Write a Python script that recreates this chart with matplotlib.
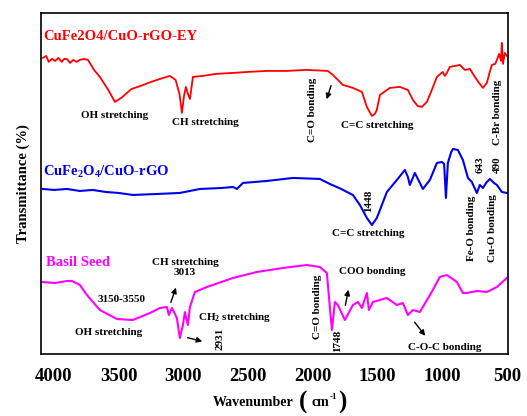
import matplotlib
matplotlib.use("Agg")
import matplotlib.pyplot as plt

plt.rcParams['font.family'] = ['Liberation Serif', 'DejaVu Serif']
plt.rcParams['font.weight'] = 'bold'
plt.rcParams['mathtext.fontset'] = 'custom'
plt.rcParams['mathtext.rm'] = 'Liberation Serif:bold'
plt.rcParams['mathtext.bf'] = 'Liberation Serif:bold'
plt.rcParams['mathtext.it'] = 'Liberation Serif:bold'

# CuFe2O4/CuO-rGO-EY (red)
ey_wn = [4085, 4060, 4040, 4015, 3990, 3965, 3940, 3920, 3900, 3875, 3850, 3825, 3800, 3770, 3737,
         3690, 3645, 3580, 3529, 3480, 3400, 3330,
         3250, 3180, 3104, 3060, 3030, 3011, 2995, 2980, 2965, 2949, 2926, 2850, 2750, 2617, 2500,
         2354, 2200, 2050, 1883, 1845, 1814, 1767, 1690, 1620, 1582, 1543, 1520, 1505, 1481, 1404,
         1327, 1265, 1226, 1190, 1157, 1118, 1080, 1041, 995, 980, 964, 941, 900, 863, 825, 786,
         747, 715, 685, 655, 630, 616, 590, 577, 560, 545, 539, 530, 516, 500]
ey_t = [358, 360, 354, 357, 355, 358, 354, 357, 357, 353, 356, 354, 356, 357, 356,
        346, 339, 326, 314, 318, 327, 330,
        334, 337, 340, 336, 322, 303, 320, 329, 322, 317, 339, 340, 342, 343, 344,
        345, 345, 346, 345, 341, 337, 331, 328, 324, 309, 300, 302, 306, 321, 328,
        329, 326, 316, 310, 309, 314, 326, 339, 344, 340, 343, 349, 350, 351, 346, 347,
        339, 333, 328, 333, 345, 351, 352, 356, 362, 355, 373, 352, 363, 360]

# CuFe2O4/CuO-rGO (blue)
go_wn = [4085, 4000, 3900, 3800, 3700, 3600, 3500, 3390, 3200, 3027, 2872, 2700, 2617, 2586, 2540,
         2354, 2153, 1945, 1868, 1780, 1736, 1690, 1636, 1582, 1543, 1505, 1427, 1350, 1288, 1265,
         1250, 1211, 1149, 1095, 1041, 1002, 985, 971, 956, 930, 917, 879, 840, 801, 771, 732,
         709, 685, 655, 631, 600, 577, 539, 500]
go_t = [227, 226, 227, 225, 226, 224, 223, 221, 222, 223, 227, 228, 229, 227, 233,
        235, 238, 237, 232, 227, 224, 221, 211, 198, 191, 198, 224, 236, 246, 239,
        231, 243, 227, 236, 253, 254, 252, 218, 253, 264, 267, 266, 256, 238, 234, 223,
        231, 228, 234, 237, 233, 231, 224, 223]

# Basil Seed (magenta)
bs_wn = [4093, 3990, 3900, 3861, 3799, 3745, 3645, 3513, 3390, 3258, 3181, 3127, 3112, 3088, 3050,
         3027, 3003, 2988, 2965, 2949, 2911, 2818, 2617, 2432, 2231, 2045, 1945, 1891, 1868, 1852,
         1829, 1806, 1752, 1690, 1651, 1620, 1582, 1566, 1535, 1427, 1350, 1304, 1265, 1226, 1172,
         1072, 1018, 964, 886, 840, 809, 732, 655, 577, 500]
bs_t = [134, 133, 135, 135, 131, 121, 106, 97, 96, 103, 108, 109, 101, 108, 98,
        78, 91, 104, 91, 109, 124, 129, 138, 144, 148, 151, 149, 143, 109, 86,
        114, 111, 96, 111, 114, 108, 123, 106, 114, 118, 111, 113, 101, 106, 104,
        126, 139, 141, 134, 123, 123, 125, 124, 129, 138]

tick_vals = [4000, 3500, 3000, 2500, 2000, 1500, 1000, 500]

W, H = 527, 416
fig = plt.figure(figsize=(W / 100, H / 100), dpi=100)
ax = fig.add_axes([0.0778, 0.149, 0.886, 0.82])

ax.plot(ey_wn, ey_t, color='#ff0000', lw=1.3)
ax.plot(go_wn, go_t, color='#0000ee', lw=1.5)
ax.plot(bs_wn, bs_t, color='#ff00ff', lw=1.5)

ax.set_xlim(4100, 492)
ax.set_ylim(62, 403)
ax.set_xticks(tick_vals)
ax.set_xticklabels([str(v) for v in tick_vals], fontsize=13.5, fontweight='bold')
ax.tick_params(axis='x', length=0, pad=10)
ax.set_yticks([])
for s in ax.spines.values():
    s.set_linewidth(1.2)

ax.set_ylabel('Transmittance (%)', fontsize=10.5, fontweight='bold', labelpad=8)

# x label built from pieces so the parentheses can be large
def px(x, y):
    return x / W, 1 - y / H
fig.text(*px(213, 406), 'Wavenumber', fontsize=10, fontweight='bold', ha='left', va='baseline')
fig.text(*px(299, 409), '(', fontsize=18, fontweight='bold', ha='left', va='baseline')
fig.text(*px(312, 406), 'cm', fontsize=10, fontweight='bold', ha='left', va='baseline')
fig.text(*px(330, 399), '-1', fontsize=6.5, fontweight='bold', ha='left', va='baseline')
fig.text(*px(338, 409), ')', fontsize=18, fontweight='bold', ha='left', va='baseline')

# series labels
ax.text(4085, 379, 'CuFe2O4/CuO-rGO-EY', color='#ff0000', fontsize=10.5, fontweight='bold', va='center', ha='left')
ax.text(4085, 244, r'CuFe$_2$O$_4$/CuO-rGO', color='#0000ee', fontsize=10.5, fontweight='bold', va='center', ha='left')
ax.text(4062, 153, 'Basil Seed', color='#ff00ff', fontsize=10.5, fontweight='bold', va='center', ha='left')

fs = 8
kw = dict(fontsize=fs, fontweight='bold', color='black', ha='center', va='center')
# red annotations
ax.text(3529, 300, 'OH stretching', **kw)
ax.text(2833, 293, 'CH stretching', **kw)
ax.text(1999, 306, 'C=O bonding', rotation=90, **kw)
ax.text(1505, 290, 'C=C stretching', **kw)
ax.text(570, 304, 'C-Br bonding', rotation=90, **kw)
akw = dict(arrowstyle='-|>', color='black', lw=1, mutation_scale=8)
ax.annotate('', xy=(1899, 314), xytext=(1852, 333), arrowprops=akw)
# blue annotations
ax.text(1566, 215, '1448', rotation=90, **kw)
ax.text(1574, 182, 'C=C stretching', **kw)
ax.text(709, 251, '643', rotation=90, **kw)
ax.text(577, 251, '490', rotation=90, **kw)
ax.text(771, 188, 'Fe-O bonding', rotation=90, **kw)
ax.text(608, 188, 'Cu-O bonding', rotation=90, **kw)
# magenta annotations
ax.text(2988, 153, 'CH stretching', **kw)
ax.text(2988, 143, '3013', **kw)
ax.text(3475, 116, '3150-3550', **kw)
ax.text(3575, 84, 'OH stretching', **kw)
ax.text(2602, 99, r'CH$_2$ stretching', **kw)
ax.text(2717, 77, '2931', rotation=90, **kw)
ax.text(1960, 109, 'C=O bonding', rotation=90, **kw)
ax.text(1806, 75, '1748', rotation=90, **kw)
ax.text(1543, 144, 'COO bonding', **kw)
ax.text(979, 69, 'C-O-C bonding', **kw)
ax.annotate('', xy=(3050, 131), xytext=(3104, 111), arrowprops=akw)
ax.annotate('', xy=(2833, 74), xytext=(2988, 79), arrowprops=akw)
ax.annotate('', xy=(1721, 129), xytext=(1752, 108), arrowprops=akw)
ax.annotate('', xy=(1118, 78), xytext=(1226, 96), arrowprops=akw)

fig.savefig('out.png', dpi=100)
